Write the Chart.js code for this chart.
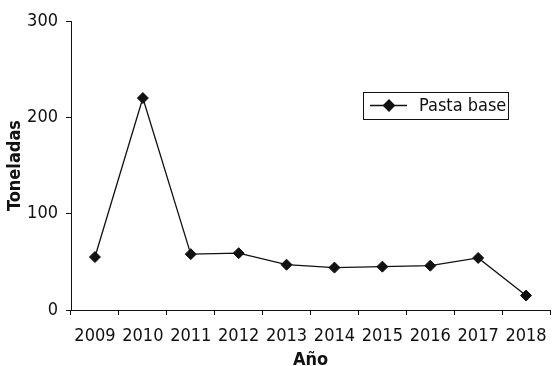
<!DOCTYPE html>
<html>
<head>
<meta charset="utf-8">
<script src="https://cdn.jsdelivr.net/npm/chart.js@4/dist/chart.umd.min.js"></script>
<style>
  html, body { margin: 0; padding: 0; overflow: hidden; background: #fff; }
  #wrap { width: 558px; height: 366px; }
</style>
</head>
<body>
<div id="wrap"><canvas id="c" width="558" height="366"></canvas></div>
<script>
// Incautaciones de pasta base por año (toneladas)
const years = ['2009', '2010', '2011', '2012', '2013', '2014', '2015', '2016', '2017', '2018'];
const pastaBase = [55, 220, 58, 59, 47, 44, 45, 46, 54, 15];
const yTicks = [0, 100, 200, 300];
const seriesLabel = 'Pasta base';
const xTitle = 'Año';
const yTitle = 'Toneladas';

const FONT = '"DejaVu Sans Condensed", "Liberation Sans Narrow", sans-serif';
const INK = '#111';

// Boxed legend drawn inside the plot area
const boxedLegend = {
  id: 'boxedLegend',
  afterDatasetsDraw(chart) {
    const ctx = chart.ctx;
    const ds = chart.data.datasets[0];
    const x0 = 363, y0 = 92, w = 145, h = 27;
    const cy = y0 + h / 2;
    ctx.save();
    ctx.fillStyle = '#fff';
    ctx.fillRect(x0, y0, w, h);
    ctx.strokeStyle = INK;
    ctx.lineWidth = 1;
    ctx.strokeRect(x0 + 0.5, y0 + 0.5, w, h);
    ctx.beginPath();
    ctx.moveTo(x0 + 7, cy);
    ctx.lineTo(x0 + 44, cy);
    ctx.lineWidth = ds.borderWidth;
    ctx.strokeStyle = ds.borderColor;
    ctx.stroke();
    Chart.helpers.drawPoint(ctx, {
      pointStyle: 'rectRot', radius: ds.pointRadius, borderWidth: 1
    }, x0 + 26, cy);
    ctx.fillStyle = ds.pointBackgroundColor;
    ctx.fill();
    ctx.fillStyle = INK;
    ctx.font = '18px ' + FONT;
    ctx.textBaseline = 'middle';
    ctx.textAlign = 'left';
    ctx.fillText(ds.label, x0 + 56, cy + 1);
    ctx.restore();
  }
};

new Chart(document.getElementById('c'), {
  type: 'line',
  data: {
    labels: years,
    datasets: [{
      label: seriesLabel,
      data: pastaBase,
      borderColor: INK,
      borderWidth: 1.3,
      pointStyle: 'rectRot',
      pointRadius: 5.5,
      pointBackgroundColor: INK,
      pointBorderColor: INK,
      pointBorderWidth: 1,
      tension: 0,
      clip: false
    }]
  },
  options: {
    responsive: false,
    animation: false,
    events: [],
    layout: { padding: { top: 21, right: 1, left: 0, bottom: 0 } },
    plugins: { legend: { display: false }, tooltip: { enabled: false } },
    scales: {
      x: {
        type: 'category',
        offset: true,
        afterFit(scale) { scale.height = 56; },
        border: { display: true, color: INK, width: 1 },
        grid: { offset: true, drawOnChartArea: false, drawTicks: true, tickLength: 5, color: INK },
        ticks: { color: INK, font: { family: FONT, size: 18 }, padding: 11, maxRotation: 0, autoSkip: false },
        title: {
          display: true, text: xTitle, color: INK,
          font: { family: FONT, size: 18, weight: 'bold' },
          padding: { top: 0, bottom: -5 }
        }
      },
      y: {
        min: 0, max: 300,
        afterFit(scale) { scale.width = 71; },
        afterBuildTicks(scale) { scale.ticks = yTicks.map(v => ({ value: v })); },
        border: { display: true, color: INK, width: 1 },
        grid: { drawOnChartArea: false, drawTicks: true, tickLength: 5, color: INK },
        ticks: { color: INK, font: { family: FONT, size: 18 }, padding: 8 },
        title: {
          display: true, text: yTitle, color: INK,
          font: { family: FONT, size: 18, weight: 'bold' },
          padding: { top: 5, bottom: 0 }
        }
      }
    }
  },
  plugins: [boxedLegend]
});
</script>
</body>
</html>
